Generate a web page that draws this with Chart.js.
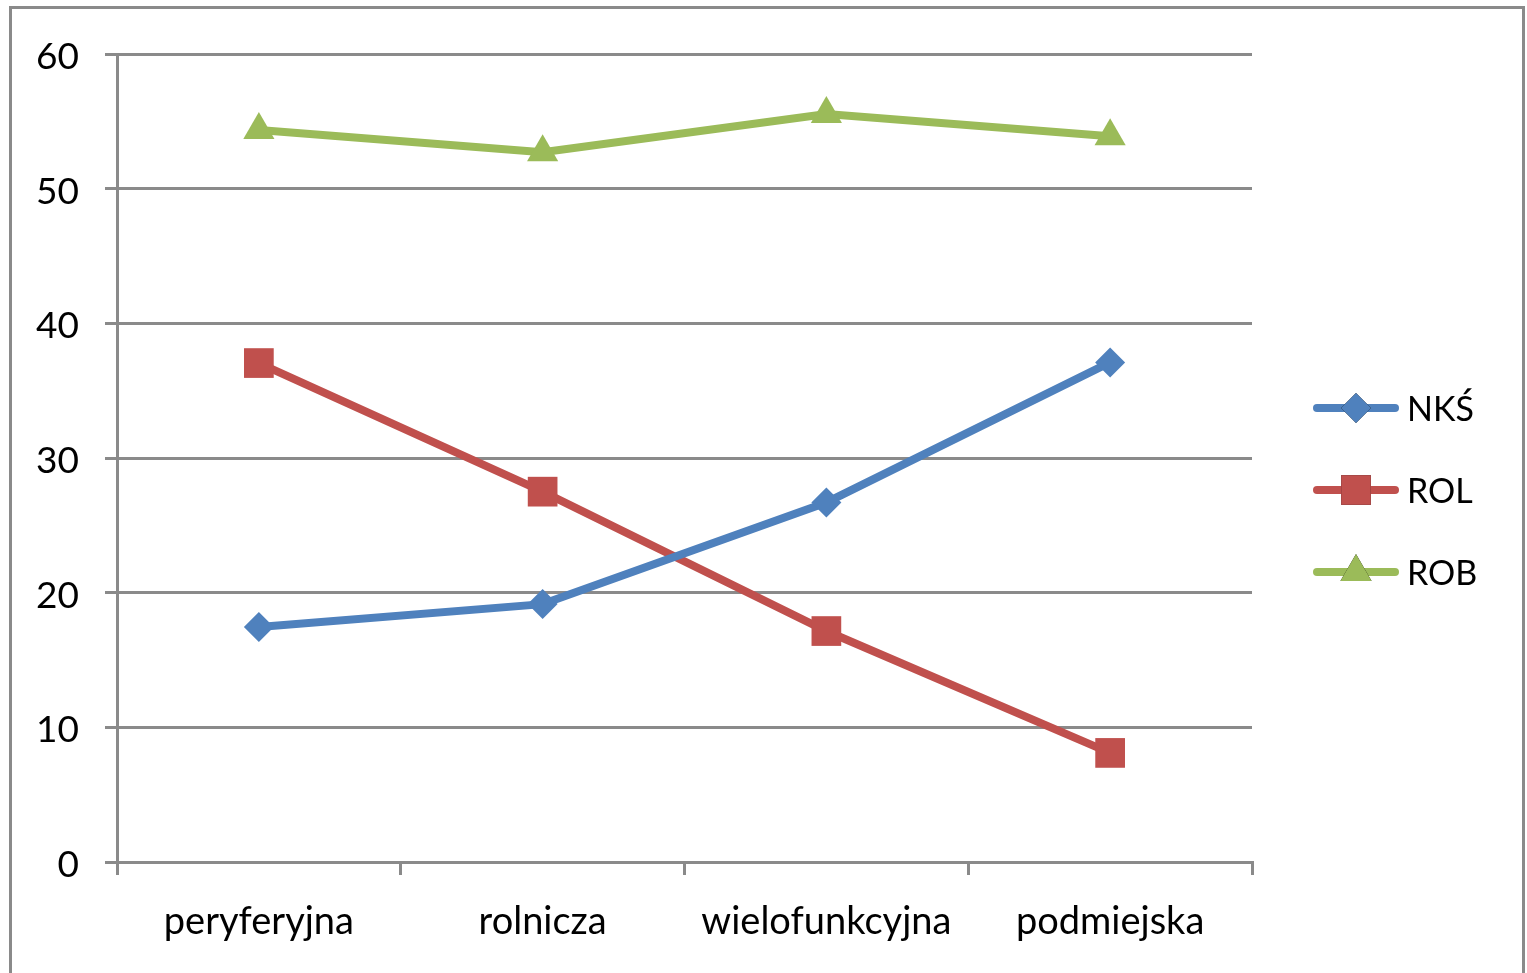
<!DOCTYPE html>
<html>
<head>
<meta charset="utf-8">
<script src="https://cdn.jsdelivr.net/npm/chart.js@4"></script>
<style>
  html, body { margin: 0; padding: 0; background: #fff; overflow: hidden; }
  #wrap { width: 1527px; height: 973px; }
</style>
</head>
<body>
<div id="wrap"><canvas id="chart" width="1527" height="973"></canvas></div>
<script>
const categories = ['peryferyjna', 'rolnicza', 'wielofunkcyjna', 'podmiejska'];
const nksValues = [17.45, 19.15, 26.7, 37.1];
const rolValues = [37.05, 27.5, 17.15, 8.1];
const robValues = [54.35, 52.7, 55.55, 53.9];
const yTicks = [0, 10, 20, 30, 40, 50, 60];

const FONT = 'Lato, "Open Sans", sans-serif';
const GRID = '#8a8a8a';

// frame round the whole chart, like the Excel chart border
const framePlugin = {
  id: 'frame',
  beforeDraw(chart) {
    const ctx = chart.ctx;
    ctx.save();
    ctx.fillStyle = '#fff';
    ctx.fillRect(0, 0, chart.width, chart.height);
    ctx.strokeStyle = '#8a8a8a';
    ctx.lineWidth = 3;
    ctx.strokeRect(10.5, 7.5, 1513, 1000);
    ctx.restore();
  }
};

// legend with line + marker, drawn from the dataset styles
const lineLegend = {
  id: 'lineLegend',
  afterDraw(chart) {
    const ctx = chart.ctx;
    ctx.save();
    chart.data.datasets.forEach((ds, i) => {
      const y = 408 + i * 82;
      ctx.strokeStyle = ds.borderColor;
      ctx.lineWidth = ds.borderWidth;
      ctx.lineCap = 'round';
      ctx.beginPath();
      ctx.moveTo(1317, y);
      ctx.lineTo(1395, y);
      ctx.stroke();
      Chart.helpers.drawPoint(ctx, {
        pointStyle: ds.pointStyle,
        radius: ds.pointRadius,
        borderWidth: 0
      }, 1356, y);
      ctx.fillStyle = ds.backgroundColor;
      ctx.fill();
      ctx.fillStyle = '#000';
      ctx.font = '34px ' + FONT;
      ctx.textBaseline = 'middle';
      ctx.fillText(ds.label, 1407, y + 2);
    });
    ctx.restore();
  }
};

new Chart(document.getElementById('chart'), {
  type: 'line',
  data: {
    labels: categories,
    datasets: [
      { label: 'NKŚ', data: nksValues, borderColor: '#4F81BD', backgroundColor: '#4F81BD',
        pointStyle: 'rectRot', pointRadius: 15, borderWidth: 8, pointBorderWidth: 0 },
      { label: 'ROL', data: rolValues, borderColor: '#C0504D', backgroundColor: '#C0504D',
        pointStyle: 'rect', pointRadius: 21, borderWidth: 8, pointBorderWidth: 0 },
      { label: 'ROB', data: robValues, borderColor: '#9BBB59', backgroundColor: '#9BBB59',
        pointStyle: 'triangle', pointRadius: 18, borderWidth: 8, pointBorderWidth: 0 }
    ]
  },
  options: {
    responsive: false,
    animation: false,
    layout: { padding: { left: 0, right: 275, top: 54, bottom: 31 } },
    plugins: { legend: { display: false }, tooltip: { enabled: false } },
    elements: { line: { tension: 0 } },
    scales: {
      x: {
        offset: true,
        grid: { offset: true, drawOnChartArea: false, drawTicks: true, tickLength: 13, color: GRID, lineWidth: 3 },
        border: { color: GRID, width: 3 },
        ticks: { color: '#000', font: { family: FONT, size: 38 }, padding: 24, maxRotation: 0 },
        afterFit(scale) { scale.height = 80; }
      },
      y: {
        min: 0, max: 60,
        afterBuildTicks(scale) { scale.ticks = yTicks.map(v => ({ value: v })); },
        grid: { color: GRID, lineWidth: 3, tickLength: 12 },
        border: { color: GRID, width: 3 },
        ticks: { color: '#000', font: { family: FONT, size: 37 }, padding: 26, labelOffset: 3 },
        afterFit(scale) { scale.width = 117; }
      }
    }
  },
  plugins: [framePlugin, lineLegend]
});
</script>
</body>
</html>
